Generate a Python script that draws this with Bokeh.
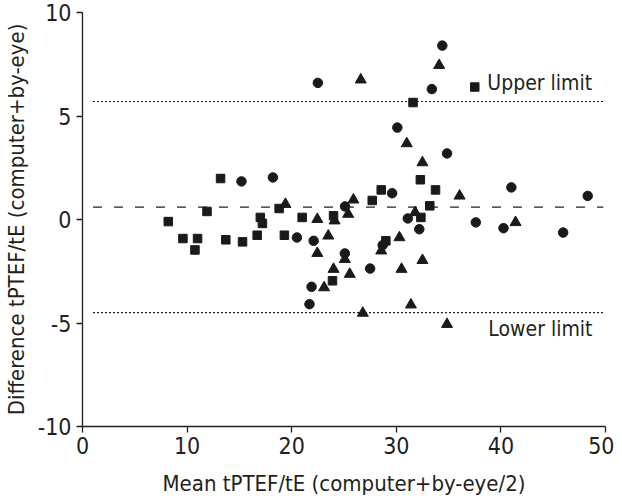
from bokeh.plotting import figure
from bokeh.models import Range1d, FixedTicker, Label
from bokeh.embed import file_html
from bokeh.resources import INLINE

# ---- data ----
sq_x = [8.2, 9.6, 10.75, 11.0, 11.9, 13.2, 13.7, 15.3, 16.7, 17.0, 17.2, 18.8, 19.3,
        21.0, 24.0, 23.9, 27.7, 28.56, 29.0, 31.6, 32.3, 32.35, 33.2, 33.75, 37.5]
sq_y = [-0.1, -0.92, -1.47, -0.92, 0.39, 1.98, -0.98, -1.08, -0.76, 0.1, -0.19, 0.53, -0.76,
        0.1, 0.18, -2.96, 0.92, 1.43, -1.03, 5.65, 1.92, 0.1, 0.66, 1.43, 6.4]

ci_x = [15.2, 18.2, 20.5, 22.1, 21.9, 21.7, 22.5, 25.1, 25.08, 27.5, 28.7, 29.6, 30.1,
        31.1, 32.2, 33.4, 34.4, 34.85, 37.6, 40.25, 41.0, 45.95, 48.3]
ci_y = [1.84, 2.03, -0.87, -1.03, -3.25, -4.09, 6.6, 0.63, -1.64, -2.37, -1.24, 1.27, 4.44,
        0.05, -0.47, 6.3, 8.4, 3.19, -0.14, -0.42, 1.55, -0.63, 1.14]

tr_x = [19.4, 22.45, 22.45, 23.5, 24.1, 24.0, 23.1, 25.4, 25.9, 25.08, 25.55, 26.6, 26.8,
        28.56, 30.3, 30.5, 31.0, 31.4, 31.8, 32.5, 32.5, 34.1, 34.85, 36.05, 41.4]
tr_y = [0.74, 0.01, -1.63, -0.79, -0.06, -2.4, -3.29, 0.26, 0.95, -1.92, -2.64, 6.75, -4.52,
        -1.51, -0.87, -2.4, 3.67, -4.12, 0.34, 2.75, -1.97, 7.45, -5.06, 1.14, -0.14]

mean_diff = 0.6
upper_limit = 5.7
lower_limit = -4.5
ref_x = [1.0, 49.8]

x_ticks = [0, 10, 20, 30, 40, 50]
y_ticks = [-10, -5, 0, 5, 10]
y_tick_labels = {-10: "-10", -5: "-5", 0: "0", 5: "5", 10: "10"}

FONT = "DejaVu Sans Condensed, Liberation Sans, sans-serif"
INK = "#231f20"

p = figure(width=614, height=503, output_backend="svg", toolbar_location=None,
           x_range=Range1d(0, 50), y_range=Range1d(-10, 10),
           min_border_left=77, min_border_right=9, min_border_top=12, min_border_bottom=77)
p.outline_line_color = None
p.grid.visible = False
p.background_fill_color = "white"
p.border_fill_color = "white"

for ax in (p.xaxis[0], p.yaxis[0]):
    ax.axis_line_color = INK
    ax.axis_line_width = 1.3
    ax.major_tick_line_color = INK
    ax.major_tick_line_width = 1.3
    ax.major_tick_in = 0
    ax.major_tick_out = 6
    ax.minor_tick_line_color = None
    ax.major_label_text_font = FONT
    ax.major_label_text_font_size = "23px"
    ax.major_label_text_color = INK
    ax.axis_label_text_font = FONT
    ax.axis_label_text_font_size = "22px"
    ax.axis_label_text_font_style = "normal"
    ax.axis_label_text_color = INK

p.xaxis.ticker = FixedTicker(ticks=x_ticks)
p.yaxis.ticker = FixedTicker(ticks=y_ticks)
p.yaxis.major_label_overrides = y_tick_labels
p.xaxis.major_label_standoff = 4
p.yaxis.major_label_standoff = 5
p.xaxis.axis_label = "Mean tPTEF/tE (computer+by-eye/2)"
p.yaxis.axis_label = "Difference tPTEF/tE (computer+by-eye)"
p.xaxis.axis_label_standoff = 14
p.yaxis.axis_label_standoff = 6

# reference lines
p.line(ref_x, [upper_limit, upper_limit], line_color=INK, line_width=1.2, line_dash="2 2")
p.line(ref_x, [lower_limit, lower_limit], line_color=INK, line_width=1.2, line_dash="2 2")
p.line(ref_x, [mean_diff, mean_diff], line_color=INK, line_width=1.3, line_dash="9 12")

# points
p.scatter(sq_x, sq_y, marker="square", size=8.5, color="#1a1a1a")
p.scatter(ci_x, ci_y, marker="circle", size=9.5, color="#1a1a1a")
p.scatter(tr_x, tr_y, marker="triangle", size=11, color="#1a1a1a")

p.add_layout(Label(x=38.7, y=6.6, text="Upper limit", text_font=FONT, text_font_size="21px",
                   text_color=INK, text_baseline="middle"))
p.add_layout(Label(x=38.8, y=-5.3, text="Lower limit", text_font=FONT, text_font_size="21px",
                   text_color=INK, text_baseline="middle"))

open("out.html", "w").write(file_html(p, INLINE))
